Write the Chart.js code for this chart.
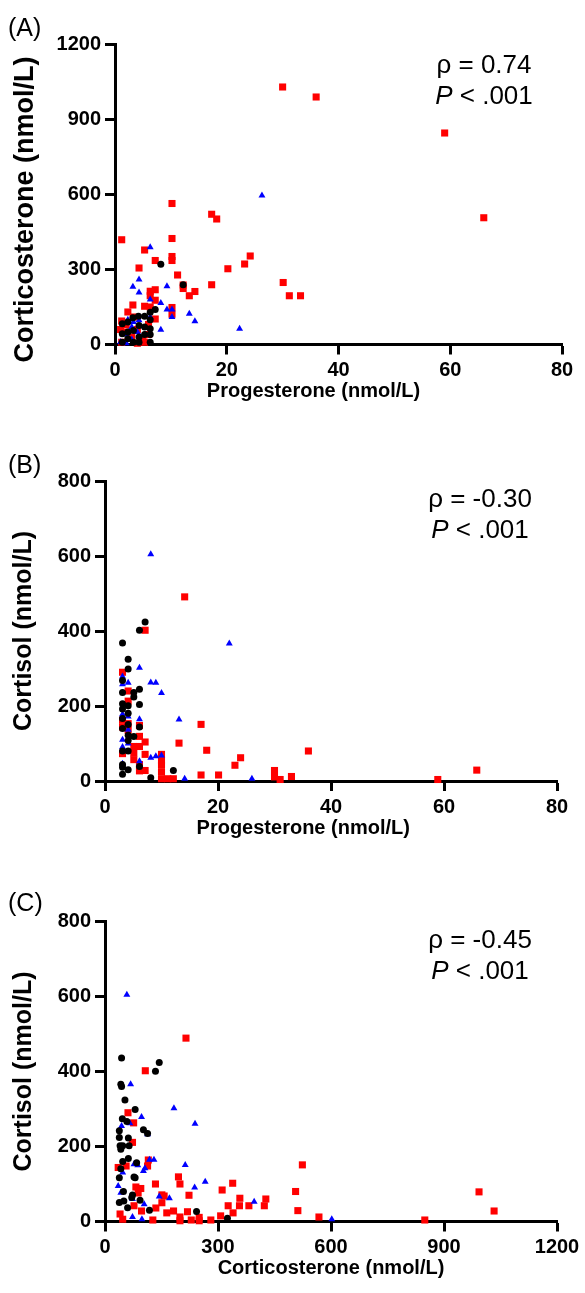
<!DOCTYPE html>
<html>
<head>
<meta charset="utf-8">
<script src="https://cdn.jsdelivr.net/npm/chart.js@4.4.1/dist/chart.umd.min.js"></script>
<style>
  body { margin: 0; background: #fff; }
  #page { position: relative; width: 585px; height: 1293px; overflow: hidden; font-family: "Liberation Sans", Arial, sans-serif; }
  .panel { position: absolute; left: 0; width: 585px; }
  .tag { position: absolute; left: 8px; font-size: 25px; line-height: 24px; color: #000; }
  .stat { position: absolute; width: 150px; font-size: 26px; line-height: 31px; text-align: center; color: #000; }
</style>
</head>
<body>
<div id="page">
  <div class="panel" style="top:0;height:430px"><canvas id="chartA"></canvas></div>
  <div class="panel" style="top:430px;height:430px"><canvas id="chartB"></canvas></div>
  <div class="panel" style="top:860px;height:433px"><canvas id="chartC"></canvas></div>

  <div class="tag" style="top:15px">(A)</div>
  <div class="tag" style="top:452px">(B)</div>
  <div class="tag" style="top:890px">(C)</div>

  <div class="stat" style="left:409px;top:49px">&rho; = 0.74<br><i>P</i> &lt; .001</div>
  <div class="stat" style="left:405px;top:483px">&rho; = -0.30<br><i>P</i> &lt; .001</div>
  <div class="stat" style="left:405px;top:924px">&rho; = -0.45<br><i>P</i> &lt; .001</div>
</div>
<script>
// (A) progesterone vs corticosterone, [x, y] in nmol/L
const aRed = [[30,1030],[36,990],[59,846],[66,507],[1.2,419],[10.2,564],[10.2,424],[17.3,521],[18.2,502],[5.3,378],
  [7.2,336],[10.2,352],[10.2,336],[4.3,306],[11.2,278],[20.2,303],[23.2,322],[24.2,354],[17.3,239],[12.2,238],
  [12.2,224],[14.3,212],[13.3,195],[30.1,248],[31.2,195],[33.2,195],[6.3,213],[7.2,219],[6.3,195],[7.2,177],
  [3.2,158],[5.3,153],[6.3,150],[10.2,148],[10.2,121],[7.2,102],[2.3,130],[1.2,94],[3.3,110],[5.3,9],
  [1.2,9],[2,50],[3,30],[4,60],[5,20],[6,80],[2,80],[4,5],[1,60],[6,40]];
const aBlue = [[26.3,596],[6.3,389],[4.3,260],[3.2,231],[4.3,208],[9.3,233],[6.3,180],[8.2,166],[9.3,140],[10.2,140],
  [10.2,110],[13.3,123],[14.3,93],[8.2,59],[22.3,63],[6.3,110],[2.3,99],[3.3,90],[4.3,97],[1,10],
  [2,40],[3,20],[4,50],[2,5],[3,70]];
const aBlack = [[8.2,321],[12.2,239],[7.2,140],[6.3,129],[6.3,99],[4.2,113],[3.2,107],[5.3,113],[1.3,83],[2.3,90],
  [6.3,63],[6.3,40],[6.3,9],[5.3,70],[4.3,76],[3.3,56],[2.3,50],[1.3,43],[1.3,9],[3.3,9],
  [4.3,30],[5.3,40],[2.3,23],[4.3,9]];

// (B) progesterone vs cortisol
const bRed = [[14.1,491],[7.1,402],[17,151],[13.1,101],[18,82],[24,62],[23,42],[36,80],[30,28],[30,11],
  [31,4],[33,12],[17,16],[20.1,16],[58.9,4],[65.8,29],[3.1,290],[4.1,240],[4.1,213],[3.1,162],
  [4.1,153],[3.1,144],[4.1,135],[6.1,148],[6.1,119],[7.1,104],[5.1,92],[6.1,92],[5.1,75],[7.1,71],
  [5.1,57],[6.1,44],[7.1,28],[6.1,27],[10,71],[10,55],[10,42],[10,24],[10,6],[11.1,6],
  [12.1,6],[3.1,73]];
const bBlue = [[8.1,605],[22,367],[6.1,302],[8.1,263],[9,262],[10,235],[13.1,164],[6.1,165],[8.1,62],[9,66],
  [10,68],[6.1,53],[14.1,6],[26,6],[3.1,279],[3.1,258],[4.1,262],[3.1,178],[4.1,172],[4.1,137],
  [3.1,110],[4.1,100],[3.1,91],[3.1,46]];
const bBlack = [[7.1,424],[6.1,402],[3.1,368],[4.1,325],[4.1,299],[6.1,245],[5.1,236],[5.1,224],[3.1,268],[3.1,236],
  [3.1,206],[4.1,201],[6.1,204],[3.1,192],[4.1,181],[3.1,167],[4.1,151],[6.1,144],[3.1,140],[4.1,122],
  [5.1,119],[3.1,80],[4.1,80],[3.1,44],[3.1,37],[4.1,30],[3.1,18],[6.1,39],[12.1,28],[8.1,9],
  [4.1,108]];

// (C) corticosterone vs cortisol
const cRed = [[215,489],[107,402],[61,290],[76,263],[73,211],[115,164],[56,148],[35,144],[113,148],[524,151],
  [195,119],[199,100],[134,100],[339,102],[311,84],[506,80],[223,70],[82,92],[95,88],[88,76],
  [151,71],[157,68],[358,62],[427,60],[151,50],[135,36],[327,42],[357,42],[382,42],[423,42],
  [182,28],[164,23],[219,26],[340,23],[512,29],[40,20],[47,6],[97,28],[77,42],[127,4],
  [199,12],[199,2],[229,4],[250,11],[250,2],[281,4],[307,15],[568,12],[993,79],[1033,28],
  [849,4]];
const cBlue = [[58,605],[68,366],[183,302],[239,261],[97,279],[66,262],[44,255],[113,233],[118,165],[130,165],
  [102,135],[106,142],[87,150],[77,153],[47,131],[213,151],[266,106],[238,91],[35,95],[42,77],
  [144,67],[171,62],[396,53],[73,60],[104,46],[73,12],[98,6],[602,6]];
const cBlack = [[44,436],[144,424],[134,401],[42,366],[44,360],[53,324],[80,299],[46,274],[58,267],[102,245],
  [113,235],[38,242],[38,224],[62,223],[40,202],[47,202],[64,202],[42,193],[62,168],[47,160],
  [84,157],[42,141],[38,117],[77,119],[80,117],[49,80],[50,55],[38,51],[60,37],[73,71],
  [93,57],[118,30],[243,27],[325,9],[71,64]];

const FONT = '"Liberation Sans", Arial, sans-serif';
const NB = '\u00a0';

function pts(arr) {
  return arr.map(p => ({ x: p[0], y: p[1] }));
}

// black first so it draws on top, red last (underneath)
function sets(black, blue, red) {
  return [
    { data: pts(black), pointStyle: 'circle', pointRadius: 3.5, backgroundColor: '#000000', borderWidth: 0, clip: false },
    { data: pts(blue), pointStyle: 'triangle', pointRadius: 4, backgroundColor: '#0000ff', borderWidth: 0, clip: false },
    { data: pts(red), pointStyle: 'rect', pointRadius: 5, backgroundColor: '#ff0000', borderWidth: 0, clip: false }
  ];
}

function axis(min, max, step, title, fitFn) {
  return {
    type: 'linear', min: min, max: max,
    ticks: { stepSize: step, color: '#000', padding: 4, font: { family: FONT, size: 20, weight: 'bold' },
      callback: v => String(v) },
    grid: { drawOnChartArea: false, drawTicks: true, tickLength: 10, tickWidth: 3, tickColor: '#000', color: '#000' },
    border: { display: true, color: '#000', width: 3 },
    title: { display: true, text: title, color: '#000', font: { family: FONT, size: 20, weight: 'bold' }, padding: 0 },
    afterFit: fitFn
  };
}

function makePanel(id, datasets, xs, ys, box) {
  const xAxis = axis(xs.min, xs.max, xs.step, xs.title, s => { s.height = box.xh; });
  const yAxis = axis(ys.min, ys.max, ys.step, ys.title, s => { s.width = box.left; });
  yAxis.title.font = { family: FONT, size: ys.titleSize, weight: 'bold' };
  yAxis.title.padding = { top: 9, bottom: 0 };

  const canvas = document.getElementById(id);
  canvas.width = 585;
  canvas.height = box.h;
  new Chart(canvas, {
    type: 'scatter',
    data: { datasets: datasets },
    options: {
      responsive: false,
      animation: false,
      devicePixelRatio: 1,
      layout: { padding: { top: box.top, right: 585 - box.right, bottom: box.bottom, left: 0 } },
      plugins: { legend: { display: false }, tooltip: { enabled: false } },
      scales: { x: xAxis, y: yAxis }
    }
  });
}

makePanel('chartA', sets(aBlack, aBlue, aRed),
  { min: 0, max: 80, step: 20, title: 'Progesterone (nmol/L)' + NB.repeat(9) },
  { min: 0, max: 1200, step: 300, title: 'Corticosterone (nmol/L)' + NB.repeat(4), titleSize: 27 },
  { h: 430, top: 44.5, right: 562, left: 115, xh: 59, bottom: 26.5 });

makePanel('chartB', sets(bBlack, bBlue, bRed),
  { min: 0, max: 80, step: 20, title: 'Progesterone (nmol/L)' + NB.repeat(10) },
  { min: 0, max: 800, step: 200, title: 'Cortisol (nmol/L)', titleSize: 25 },
  { h: 430, top: 51, right: 557, left: 105, xh: 59, bottom: 20 });

makePanel('chartC', sets(cBlack, cBlue, cRed),
  { min: 0, max: 1200, step: 300, title: 'Corticosterone (nmol/L)' },
  { min: 0, max: 800, step: 200, title: 'Cortisol (nmol/L)', titleSize: 25 },
  { h: 433, top: 61.5, right: 557, left: 105, xh: 59, bottom: 12.5 });
</script>
</body>
</html>
